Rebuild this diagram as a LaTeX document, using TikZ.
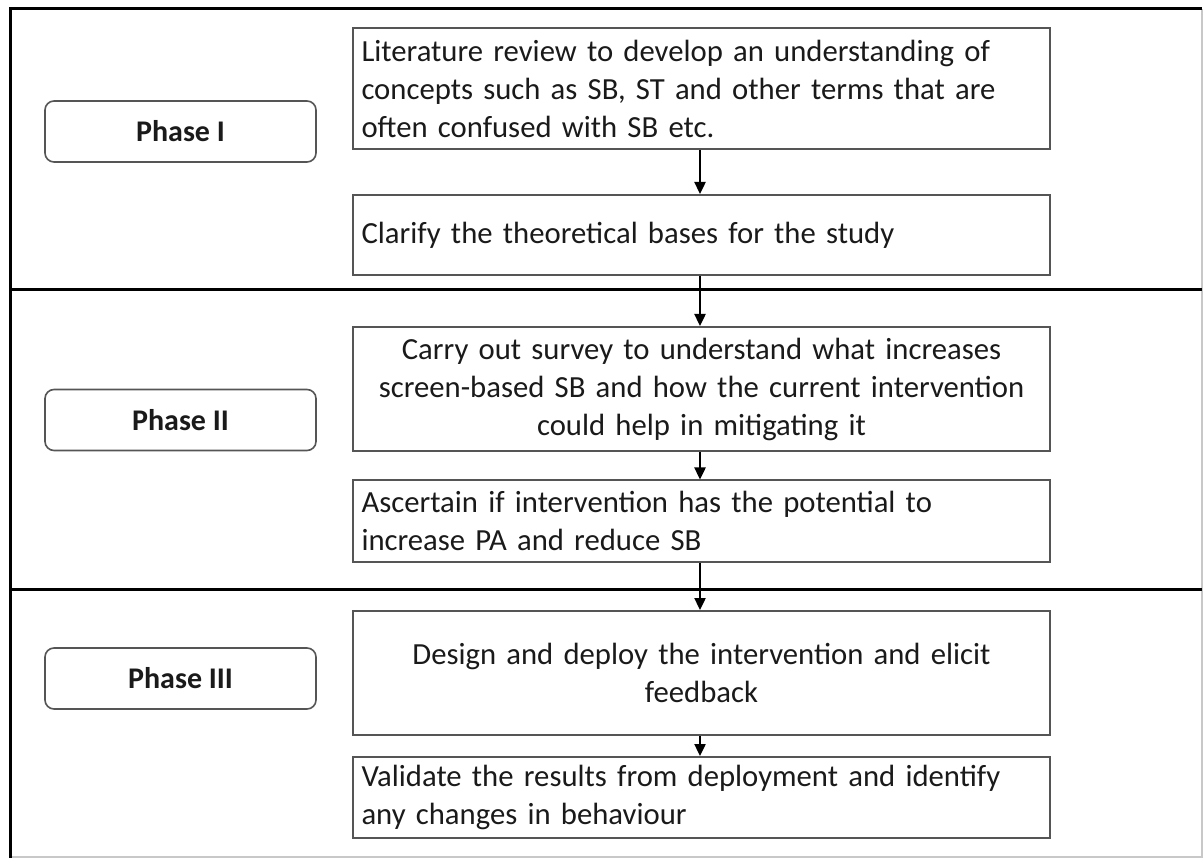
\documentclass[tikz,border=0pt]{standalone}
\usepackage{fontspec}
\setmainfont{Carlito}
\usetikzlibrary{arrows.meta}
\definecolor{boxline}{HTML}{555555}
\definecolor{txt}{HTML}{1A1A1A}
\definecolor{edge}{HTML}{C8C8C8}
\begin{document}
\begin{tikzpicture}[x=1pt,y=-1pt,
  stepbox/.style={draw=boxline,line width=2pt,rectangle,minimum width=697pt,
    inner sep=0pt,text width=680pt,font=\fontsize{30.7}{38}\selectfont,text=txt},
  phasebox/.style={draw=boxline,line width=1.6pt,rectangle,rounded corners=9pt,
    minimum width=271pt,minimum height=61pt,inner sep=0pt,
    font=\fontsize{30}{34}\selectfont\bfseries,text=txt},
  frame/.style={line width=3pt,black},
  flow/.style={line width=2.4pt,-{Triangle[length=12pt,width=11pt]}}]
\useasboundingbox (0,0) rectangle (1203,858);
\fill[white] (0,0) rectangle (1203,858);

% outer frame and phase separators
\draw[edge,line width=1.2pt] (1202,9) -- (1202,857) -- (10,857);
\draw[frame] (10,9) -- (1202,9);
\draw[frame] (10,290) -- (1202,290);
\draw[frame] (10,589) -- (1202,589);
\draw[frame] (10,7.5) -- (10,858);

% phase labels
\node[phasebox] (p1) at (180.5,131.5) {Phase I};
\node[phasebox] (p2) at (180.5,420) {Phase II};
\node[phasebox] (p3) at (180.5,678.5) {Phase III};

% activity boxes
\node[stepbox,minimum height=121pt,align=left] (s1) at (701.5,88.5)
  {Literature review to develop an understanding of\\concepts such as SB, ST and other terms that are\\often confused with SB etc.};
\node[stepbox,minimum height=80pt,align=left] (s2) at (701.5,235)
  {Clarify the theoretical bases for the study};
\node[stepbox,minimum height=124pt,align=center] (s3) at (701.5,389)
  {Carry out survey to understand what increases\\screen-based SB and how the current intervention\\could help in mitigating it};
\node[stepbox,minimum height=81pt,align=left] (s4) at (701.5,521)
  {Ascertain if intervention has the potential to\\increase PA and reduce SB};
\node[stepbox,minimum height=124pt,align=center] (s5) at (701.5,673)
  {Design and deploy the intervention and elicit\\feedback};
\node[stepbox,minimum height=81pt,align=left] (s6) at (701.5,797.5)
  {Validate the results from deployment and identify\\any changes in behaviour};

% flow arrows
\draw[flow] (s1.south -| 700,0) -- (s2.north -| 700,0);
\draw[flow] (s2.south -| 700,0) -- (s3.north -| 700,0);
\draw[flow] (s3.south -| 700,0) -- (s4.north -| 700,0);
\draw[flow] (s4.south -| 700,0) -- (s5.north -| 700,0);
\draw[flow] (s5.south -| 700,0) -- (s6.north -| 700,0);
\end{tikzpicture}
\end{document}
